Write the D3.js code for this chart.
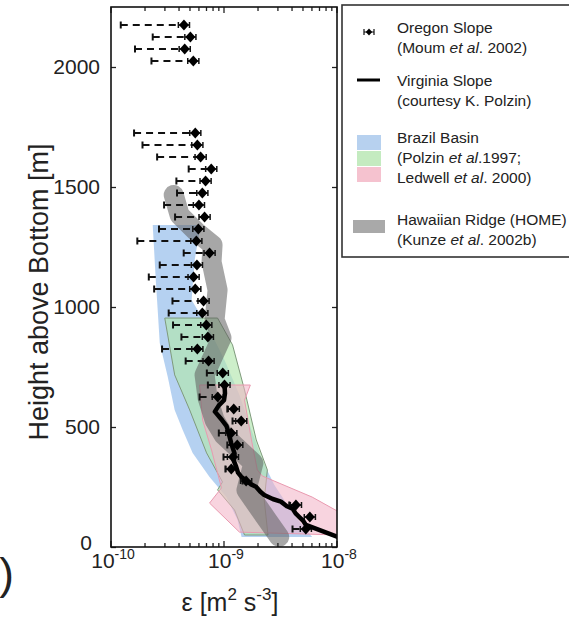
<!DOCTYPE html>
<html>
<head>
<meta charset="utf-8">
<script src="https://cdn.jsdelivr.net/npm/d3@7"></script>
<style>
  body { margin: 0; background: #fff; }
  svg { display: block; }
  text { font-family: "Liberation Sans", Arial, sans-serif; fill: #222; }
</style>
</head>
<body>
<div id="chart"></div>
<script>
// Oregon Slope (Moum et al. 2002): height, epsilon, lower (dashed) bound
var oregonH = [2175, 2125, 2075, 2025,
  1725, 1675, 1625, 1575, 1525, 1475, 1425, 1375, 1325, 1275, 1225, 1175, 1125, 1075,
  1025, 975, 925, 875, 825, 775, 725, 675, 625, 575, 525, 475, 425, 375, 325, 275,
  175, 125, 75];
var oregonEps = [4.42e-10, 5.04e-10, 4.49e-10, 5.35e-10,
  5.57e-10, 5.81e-10, 6.21e-10, 7.71e-10, 6.87e-10, 6.43e-10, 6.00e-10, 6.73e-10, 5.93e-10, 5.69e-10, 7.45e-10, 5.76e-10, 5.38e-10, 5.57e-10,
  6.59e-10, 6.43e-10, 6.97e-10, 7.20e-10, 5.81e-10, 7.30e-10, 9.75e-10, 1.01e-9, 8.81e-10, 1.22e-9, 1.42e-9, 1.16e-9, 1.31e-9, 1.20e-9, 1.16e-9, 1.57e-9,
  4.33e-9, 5.75e-9, 5.30e-9];
var oregonLow = [1.22e-10, 2.34e-10, 1.63e-10, 2.28e-10,
  1.60e-10, 1.90e-10, 2.56e-10, 4.87e-10, 3.79e-10, 3.84e-10, 2.95e-10, 3.69e-10, 2.66e-10, 1.71e-10, 4.40e-10, 2.70e-10, 2.16e-10, 2.41e-10,
  3.50e-10, 3.24e-10, 3.54e-10, 4.20e-10, 2.83e-10, 4.58e-10, 7.05e-10, 7.20e-10, 6.08e-10, 1.07e-9, 1.19e-9, 9.00e-10, 1.07e-9, 9.90e-10, 1.03e-9, 1.46e-9,
  3.78e-9, 5.75e-9, 4.04e-9];
var errFactor = 1.12;

// Virginia Slope (courtesy K. Polzin)
var virginiaH = [682, 640, 612, 590, 564, 545, 529, 505, 487, 460, 432, 410, 390, 360, 335, 310, 293, 272, 262, 251, 230, 217, 200, 189, 170, 160, 140, 126, 110, 92, 71, 43, 20];
var virginiaEps = [1.01e-9, 1.02e-9, 1.0e-9, 9.0e-10, 8.3e-10, 9.0e-10, 9.6e-10, 1.05e-9, 1.08e-9, 1.12e-9, 1.16e-9, 1.2e-9, 1.24e-9, 1.22e-9, 1.28e-9, 1.33e-9, 1.42e-9, 1.62e-9, 1.72e-9, 1.92e-9, 2.1e-9, 2.27e-9, 2.7e-9, 3.19e-9, 3.6e-9, 4.04e-9, 4.3e-9, 4.62e-9, 5.0e-9, 5.3e-9, 6.94e-9, 1.0e-8, 1.3e-8];

// Brazil Basin envelopes
var blueH = [1342, 1113, 988, 850, 708, 571, 488, 392, 292, 208, 113, 42, 42, 133, 258, 363, 488, 633, 779, 904, 1029, 1196, 1342];
var blueEps = [2.34e-10, 2.49e-10, 2.59e-10, 2.70e-10, 3.18e-10, 3.66e-10, 4.31e-10, 5.28e-10, 7.45e-10, 1.05e-9, 1.32e-9, 1.43e-9,
  6.03e-9, 4.18e-9, 2.79e-9, 2.18e-9, 1.75e-9, 1.37e-9, 1.01e-9, 7.45e-10, 5.17e-10, 5.50e-10, 6.21e-10];
var greenH = [954, 954, 842, 654, 446, 321, 196, 50, 50, 154, 238, 271, 392, 571, 717];
var greenEps = [2.99e-10, 8.77e-10, 1.19e-9, 1.52e-9, 1.93e-9, 2.42e-9, 2.27e-9, 2.45e-9, 1.52e-9, 1.24e-9, 8.77e-10, 9.70e-10, 7.01e-10, 4.97e-10, 3.66e-10];
var pinkH = [675, 675, 612, 446, 321, 296, 208, 146, 50, 62, 183, 246, 404, 529];
var pinkEps = [6.08e-10, 1.71e-9, 1.52e-9, 1.75e-9, 1.97e-9, 2.18e-9, 6.03e-9, 1.04e-8, 1.04e-8, 1.37e-9, 7.45e-10, 9.50e-10, 7.76e-10, 6.47e-10];

// Hawaiian Ridge (HOME) band centre
var homeH = [1467, 1383, 1313, 1258, 1188, 1071, 946, 871, 717, 621, 529, 467, 350, 237, 112, 42];
var homeEps = [3.59e-10, 4.05e-10, 5.72e-10, 7.92e-10, 7.76e-10, 8.77e-10, 8.25e-10, 9.5e-10, 6.73e-10, 7.16e-10, 8.25e-10, 9.9e-10, 1.82e-9, 1.58e-9, 2.42e-9, 3.08e-9];

var xMajor = [1e-10, 1e-9, 1e-8];
var xMajorExp = ["-10", "-9", "-8"];
var yTicks = [0, 500, 1000, 1500, 2000];

var legendLines = [
  ["Oregon Slope", "(Moum |et al|. 2002)"],
  ["Virginia Slope", "(courtesy K. Polzin)"],
  ["Brazil Basin", "(Polzin |et al|.1997;", "Ledwell |et al|. 2000)"],
  ["Hawaiian Ridge (HOME)", "(Kunze |et al|. 2002b)"]
];

var margin = {top: 7, left: 111},
    width = 226,
    height = 540;

var svg = d3.select("#chart").append("svg")
    .attr("width", 569)
    .attr("height", 619);

var g = svg.append("g")
    .attr("transform", "translate(" + margin.left + "," + margin.top + ")");

var x = d3.scaleLog().domain([1e-10, 1e-8]).range([0, width]);
var y = d3.scaleLinear().domain([0, 2250]).range([height, 0]);

g.append("clipPath").attr("id", "clip")
  .append("rect").attr("width", width).attr("height", height);

var plot = g.append("g").attr("clip-path", "url(#clip)");

function poly(hs, es) {
  return hs.map(function(h, i) { return [x(es[i]), y(h)]; });
}
var line = d3.line();

plot.append("path")
  .attr("d", line(poly(blueH, blueEps)) + "Z")
  .attr("fill", "#a3c6ee")
  .attr("fill-opacity", 0.8);

plot.append("path")
  .attr("d", line(poly(greenH, greenEps)) + "Z")
  .attr("fill", "#b2e6ae")
  .attr("fill-opacity", 0.65)
  .attr("stroke", "#7f9a7c")
  .attr("stroke-width", 1);

plot.append("path")
  .attr("d", line(poly(pinkH, pinkEps)) + "Z")
  .attr("fill", "#f3b0c4")
  .attr("fill-opacity", 0.55)
  .attr("stroke", "#e99ab0")
  .attr("stroke-width", 1);

plot.append("path")
  .attr("d", line(poly(homeH, homeEps)))
  .attr("fill", "none")
  .attr("stroke", "#5e5e5e")
  .attr("stroke-opacity", 0.55)
  .attr("stroke-width", 20)
  .attr("stroke-linecap", "round")
  .attr("stroke-linejoin", "round");

// Oregon slope points
var diamond = "M0,-5.5L5,0L0,5.5L-5,0Z";
var og = plot.selectAll(".oregon")
  .data(oregonH)
  .enter().append("g")
  .attr("class", "oregon");

og.append("line")
  .attr("x1", function(d, i) { return x(oregonLow[i]); })
  .attr("x2", function(d, i) { return x(oregonEps[i]); })
  .attr("y1", function(d) { return y(d); })
  .attr("y2", function(d) { return y(d); })
  .attr("stroke", "#111")
  .attr("stroke-width", 2)
  .attr("stroke-dasharray", "7,5");

og.append("line")
  .attr("x1", function(d, i) { return x(oregonLow[i]); })
  .attr("x2", function(d, i) { return x(oregonLow[i]); })
  .attr("y1", function(d) { return y(d) - 3.5; })
  .attr("y2", function(d) { return y(d) + 3.5; })
  .attr("stroke", "#111")
  .attr("stroke-width", 2);

og.append("path")
  .attr("d", function(d, i) {
    var a = x(oregonEps[i] / errFactor), b = x(oregonEps[i] * errFactor), yy = y(d);
    return "M" + a + "," + (yy - 3) + "V" + (yy + 3) + "M" + a + "," + yy + "H" + b +
      "M" + b + "," + (yy - 3) + "V" + (yy + 3);
  })
  .attr("stroke", "#111")
  .attr("stroke-width", 1.5)
  .attr("fill", "none");

og.append("path")
  .attr("d", diamond)
  .attr("transform", function(d, i) { return "translate(" + x(oregonEps[i]) + "," + y(d) + ")"; })
  .attr("fill", "#000");

// Virginia slope
plot.append("path")
  .attr("d", line(poly(virginiaH, virginiaEps)))
  .attr("fill", "none")
  .attr("stroke", "#000")
  .attr("stroke-width", 4.5)
  .attr("stroke-linejoin", "round");

// axes
var minor = [];
[1e-10, 1e-9].forEach(function(p) {
  for (var k = 2; k <= 9; k++) minor.push(p * k);
});

function tickLines(sel, vals, len, atY, dir) {
  sel.selectAll(null).data(vals).enter().append("line")
    .attr("x1", function(d) { return x(d); })
    .attr("x2", function(d) { return x(d); })
    .attr("y1", atY)
    .attr("y2", atY + dir * len)
    .attr("stroke", "#222")
    .attr("stroke-width", 1.3);
}
var axes = g.append("g");
tickLines(axes, minor, 4, height, -1);
tickLines(axes, xMajor, 6, height, -1);
tickLines(axes, minor, 4, 0, 1);
tickLines(axes, xMajor, 6, 0, 1);

var yAxis = d3.axisLeft(y).tickValues(yTicks).tickFormat(d3.format("d"))
  .tickSizeInner(-5).tickSizeOuter(0).tickPadding(11);
var ya = axes.append("g").call(yAxis);
ya.select(".domain").remove();
ya.selectAll("line").attr("stroke", "#222").attr("stroke-width", 1.3);
ya.selectAll("text")
  .attr("font-size", 21)
  .attr("font-family", "Liberation Sans, Arial, sans-serif")
  .attr("fill", "#222")
  .attr("x", function(d) { return d === 0 ? -19 : -11; })
  .attr("dy", function(d) { return d === 0 ? "0.1em" : "0.32em"; });

var yAxisR = d3.axisRight(y).tickValues(yTicks).tickSizeInner(-5).tickSizeOuter(0).tickFormat("");
var yr = axes.append("g").attr("transform", "translate(" + width + ",0)").call(yAxisR);
yr.select(".domain").remove();
yr.selectAll("line").attr("stroke", "#222").attr("stroke-width", 1.3);

axes.append("rect")
  .attr("width", width)
  .attr("height", height)
  .attr("fill", "none")
  .attr("stroke", "#111")
  .attr("stroke-width", 1.6);

var xl = axes.selectAll(".xlab").data(xMajor).enter().append("text")
  .attr("class", "xlab")
  .attr("x", function(d) { return x(d) + 2; })
  .attr("y", height + 21)
  .attr("text-anchor", "middle")
  .attr("font-size", 21);
xl.append("tspan").text("10");
xl.append("tspan")
  .attr("dy", -9)
  .attr("font-size", 14)
  .text(function(d, i) { return xMajorExp[i]; });

// axis titles
var xt = svg.append("text")
  .attr("x", 230)
  .attr("y", 611)
  .attr("text-anchor", "middle")
  .attr("font-size", 25);
xt.append("tspan").text("ε [m");
xt.append("tspan").attr("dy", -11).attr("font-size", 17).text("2");
xt.append("tspan").attr("dy", 11).text(" s");
xt.append("tspan").attr("dy", -11).attr("font-size", 17).text("-3");
xt.append("tspan").attr("dy", 11).text("]");

svg.append("text")
  .attr("transform", "translate(48,292) rotate(-90)")
  .attr("text-anchor", "middle")
  .attr("font-size", 27)
  .text("Height above Bottom [m]");

svg.append("text")
  .attr("x", 14)
  .attr("y", 589)
  .attr("text-anchor", "end")
  .attr("font-size", 44)
  .text(")");

// legend
var leg = svg.append("g");
leg.append("rect")
  .attr("x", 342).attr("y", 5)
  .attr("width", 240).attr("height", 252)
  .attr("fill", "#fff")
  .attr("stroke", "#333")
  .attr("stroke-width", 1.6);

var legY = [33, 86, 143, 225];
legendLines.forEach(function(lines, k) {
  lines.forEach(function(s, j) {
    var t = leg.append("text")
      .attr("x", 397)
      .attr("y", legY[k] + j * 20)
      .attr("font-size", 15.5);
    s.split("|").forEach(function(part, p) {
      t.append("tspan").attr("font-style", p % 2 ? "italic" : "normal").text(part);
    });
  });
});

leg.append("path")
  .attr("d", "M364,29V35M364,32H374M374,29V35")
  .attr("stroke", "#111").attr("stroke-width", 1.2);
leg.append("path")
  .attr("d", "M0,-3.5L3.2,0L0,3.5L-3.2,0Z")
  .attr("transform", "translate(369,32)")
  .attr("fill", "#000");
leg.append("line")
  .attr("x1", 357).attr("x2", 380).attr("y1", 80).attr("y2", 80)
  .attr("stroke", "#000").attr("stroke-width", 3);
var sw = [["#b7d1ef", 135], ["#c4ebc0", 151], ["#f5c2cf", 167]];
sw.forEach(function(s) {
  leg.append("rect")
    .attr("x", 357).attr("y", s[1]).attr("width", 24).attr("height", 15)
    .attr("fill", s[0]);
});
leg.append("rect")
  .attr("x", 353).attr("y", 220).attr("width", 32).attr("height", 13)
  .attr("fill", "#a9a9a9");
</script>
</body>
</html>
